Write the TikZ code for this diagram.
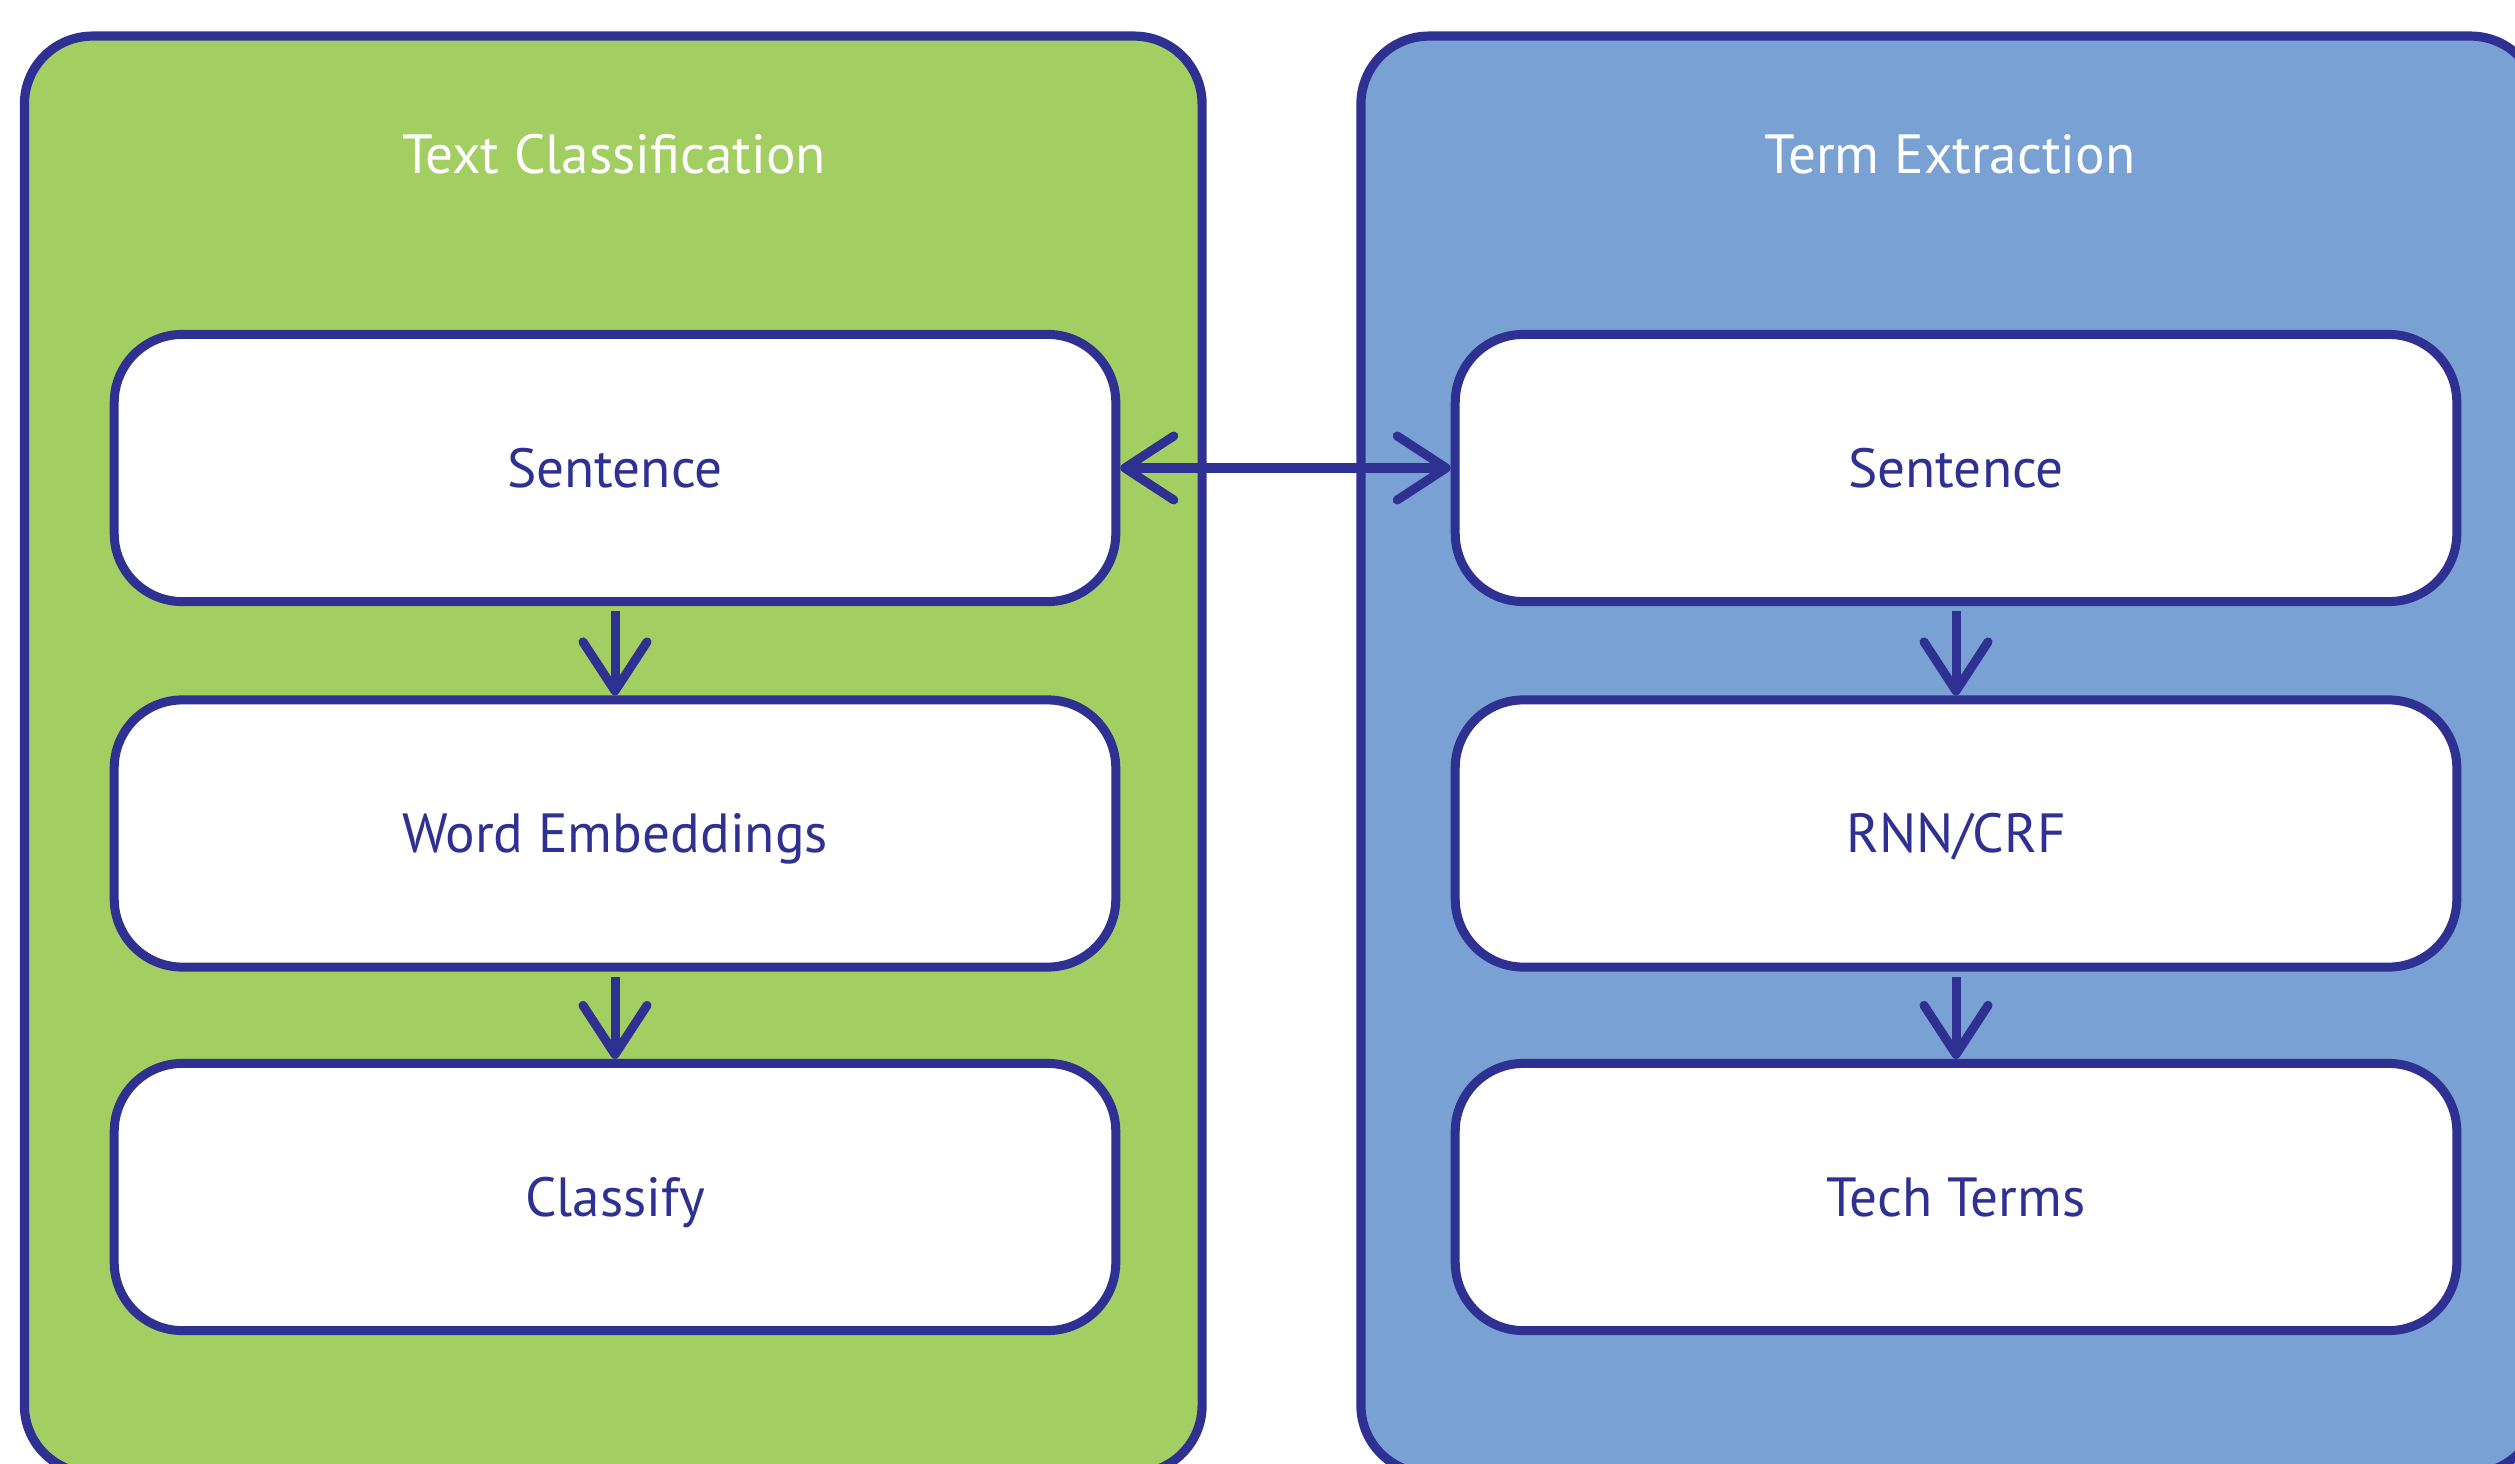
\documentclass[tikz,border=0pt]{standalone}
\usepackage{fontspec}
\setmainfont{PT Sans}
\usetikzlibrary{arrows.meta}
\definecolor{strokeblue}{HTML}{2E3192}
\definecolor{panelgreen}{HTML}{A3CE62}
\definecolor{panelblue}{HTML}{79A1D3}
\begin{document}
\begin{tikzpicture}[x=0.01cm,y=-0.01cm,
  panel/.style={draw=strokeblue, line width=0.092cm, rounded corners=0.68cm,
    minimum width=11.77cm, minimum height=14.365cm, inner sep=0pt, outer sep=0pt},
  stepbox/.style={draw=strokeblue, fill=white, line width=0.09cm, rounded corners=0.68cm,
    minimum width=10.01cm, minimum height=2.67cm, inner sep=0pt,
    text=strokeblue, font=\fontsize{15.7}{19}\selectfont, text height=0.385cm, text depth=0pt},
  paneltitle/.style={text=white, font=\fontsize{15.7}{19}\selectfont, inner sep=0pt, anchor=base},
  flow/.style={draw=strokeblue, line width=0.09cm},
  barb/.tip={Straight Barb[length=0.49cm, width=0.64cm, round]}
]
\useasboundingbox (0,0) rectangle (2515,1464);
% panels
\node[panel, fill=panelgreen] (leftpanel) at (613.25,754.75) {};
\node[panel, fill=panelblue] (rightpanel) at (1949.75,754.75) {};
% titles
\node[paneltitle] (lefttitle) at (614,174) {Text Classification};
\node[paneltitle] (righttitle) at (1950,174) {Term Extraction};
% left column
\node[stepbox] (s1) at (615,468) {Sentence};
\node[stepbox] (w1) at (615,833.5) {Word Embeddings};
\node[stepbox] (c1) at (615,1197) {Classify};
% right column
\node[stepbox] (s2) at (1956,468) {Sentence};
\node[stepbox] (r2) at (1956,833.5) {RNN/CRF};
\node[stepbox] (t2) at (1956,1197) {Tech Terms};
% connectors
\draw[flow, -barb, shorten <=0.05cm] (s1.south) -- (w1.north);
\draw[flow, -barb, shorten <=0.05cm] (w1.south) -- (c1.north);
\draw[flow, -barb, shorten <=0.05cm] (s2.south) -- (r2.north);
\draw[flow, -barb, shorten <=0.05cm] (r2.south) -- (t2.north);
\draw[flow, barb-barb] (s1.east) -- (s2.west);
\end{tikzpicture}
\end{document}
